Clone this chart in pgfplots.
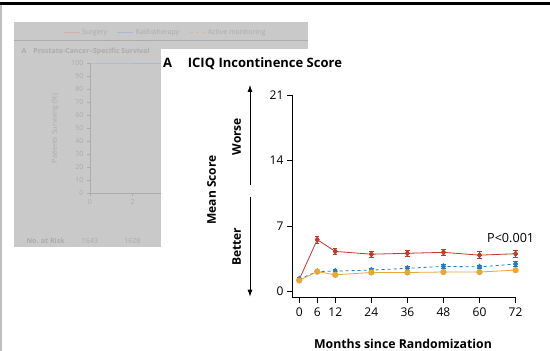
\documentclass[border=0pt]{standalone}
\usepackage{pgfplots}
\pgfplotsset{compat=1.18}
\usetikzlibrary{arrows.meta}
\usepackage{fontspec}
\setmainfont{Open Sans}
\definecolor{cred}{RGB}{192,58,43}
\definecolor{cblue}{RGB}{40,120,190}
\definecolor{corange}{RGB}{232,166,62}
\definecolor{insetbg}{RGB}{201,201,201}
\definecolor{insetfg}{RGB}{172,172,172}
\begin{document}
\begin{tikzpicture}
\path[use as bounding box, fill=white] (0,0) rectangle (550pt,351pt);
% faded background panel
\fill[insetbg] (14pt,104pt) rectangle (308pt,329pt);
\draw[insetfg, line width=0.6pt] (14pt,310.3pt) -- (308pt,310.3pt);
\node[anchor=west, text=insetfg, font=\fontsize{7}{8}\selectfont\bfseries] at (18pt,299.3pt) {A\quad Prostate-Cancer--Specific Survival};
\begin{axis}[
  scale only axis, width=213pt, height=130pt,
  anchor=south west, at={(90pt,157.7pt)},
  xmin=0, xmax=10, ymin=0, ymax=100,
  axis lines=left, axis line style={-, insetfg, line width=0.5pt},
  tick style={insetfg, line width=0.5pt}, tick align=outside, major tick length=3pt,
  xtick={0,2,4,6,8,10}, ytick={0,10,...,100},
  tick label style={text=insetfg, font=\fontsize{7}{8}\selectfont},
  /pgf/number format/assume math mode=true,
  ylabel={Patients Surviving (\%)}, ylabel style={text=insetfg, font=\fontsize{7}{8}\selectfont, at={(ticklabel cs:0.5)}, anchor=south, yshift=6pt},
  legend columns=3,
  legend style={draw=none, fill=none, at={(0.354,1.238)}, anchor=center, font=\fontsize{7}{8}\selectfont, text=insetfg, /tikz/every even column/.append style={column sep=8pt}},
  legend image code/.code={\draw[#1] (0pt,0pt) -- (16pt,0pt);},
  clip=false,
]
\addlegendimage{color={rgb,255:red,210;green,175;blue,170}, line width=0.6pt}
\addlegendentry{Surgery}
\addlegendimage{color={rgb,255:red,170;green,185;blue,205}, line width=0.6pt}
\addlegendentry{Radiotherapy}
\addlegendimage{color={rgb,255:red,205;green,190;blue,165}, dashed, line width=0.6pt}
\addlegendentry{Active monitoring}
\addplot[color={rgb,255:red,170;green,185;blue,205}, line width=0.6pt, forget plot] coordinates {(0,100) (3.5,99.8)};
\end{axis}
\node[anchor=west, text=insetfg, font=\fontsize{7}{8}\selectfont\bfseries] at (23pt,110.3pt) {No. at Risk};
\node[text=insetfg, font=\fontsize{7}{8}\selectfont] at (90pt,110.3pt) {1643};
\node[text=insetfg, font=\fontsize{7}{8}\selectfont] at (132.3pt,110.3pt) {1628};
% white main panel
\fill[white] (161pt,0pt) rectangle (309pt,302pt);
% borders
\fill[black] (0pt,346.3pt) rectangle (550pt,348.7pt);
\fill[black!25] (0pt,0pt) rectangle (2pt,346.3pt);
% titles and side labels
\node[anchor=west, font=\fontsize{13}{15}\selectfont\bfseries, inner sep=0pt] at (163pt,287.7pt) {A};
\node[anchor=west, font=\fontsize{13}{15}\selectfont\bfseries, inner sep=0pt] at (187.7pt,287.7pt) {ICIQ Incontinence Score};
\node[rotate=90, font=\fontsize{12}{14}\selectfont\bfseries] at (211.7pt,161pt) {Mean Score};
\node[rotate=90, font=\fontsize{12}{14}\selectfont\bfseries] at (236.7pt,214.3pt) {Worse};
\node[rotate=90, font=\fontsize{12}{14}\selectfont\bfseries] at (236.7pt,104.3pt) {Better};
\draw[-{Latex[length=7pt,width=5pt]}, line width=0.8pt] (250pt,166pt) -- (250pt,266pt);
\draw[-{Latex[length=7pt,width=5pt]}, line width=0.8pt] (250pt,154.3pt) -- (250pt,54.3pt);
\node[font=\fontsize{12.3}{14}\selectfont\bfseries] at (403pt,7pt) {Months since Randomization};
\node[anchor=west, font=\fontsize{12.6}{14}\selectfont, inner sep=0pt] at (487pt,112.7pt) {P<0.001};
% main axis
\begin{axis}[
  scale only axis, width=223.6pt, height=202.8pt,
  anchor=south west, at={(292pt,53.3pt)},
  xmin=-2.4, xmax=72, ymin=-0.64, ymax=21,
  axis lines=left, axis line style={-, line width=0.6pt},
  tick style={black, line width=0.6pt}, tick align=outside, major tick length=5pt,
  xtick={0,6,12,24,36,48,60,72}, ytick={0,7,14,21},
  tick label style={font=\fontsize{12}{14}\selectfont},
  xticklabel style={yshift=-1.5pt},
  /pgf/number format/assume math mode=true,
  clip=false,
  every axis plot/.append style={line width=0.8pt, mark size=2.7pt},
  error bars/error bar style={line width=0.8pt, solid},
  error bars/error mark options={rotate=90, mark size=2.2pt, line width=0.8pt},
]
\addplot[cred, mark=diamond*, mark options={solid, fill=cred}, error bars/.cd, y dir=both, y explicit] coordinates {
 (0,1.3) +- (0,0.15)
 (6,5.55) +- (0,0.4)
 (12,4.3) +- (0,0.35)
 (24,4.0) +- (0,0.35)
 (36,4.1) +- (0,0.35)
 (48,4.2) +- (0,0.35)
 (60,3.9) +- (0,0.35)
 (72,4.05) +- (0,0.35)
};
\addplot[cblue, dashed, mark=diamond*, mark options={solid, fill=cblue}, error bars/.cd, y dir=both, y explicit] coordinates {
 (0,1.35) +- (0,0.15)
 (6,2.15) +- (0,0.2)
 (12,2.2) +- (0,0.2)
 (24,2.3) +- (0,0.2)
 (36,2.5) +- (0,0.2)
 (48,2.7) +- (0,0.2)
 (60,2.65) +- (0,0.2)
 (72,2.95) +- (0,0.25)
};
\addplot[corange, mark=*, mark options={solid, fill=corange}, error bars/.cd, y dir=both, y explicit] coordinates {
 (0,1.2) +- (0,0.15)
 (6,2.15) +- (0,0.15)
 (12,1.8) +- (0,0.15)
 (24,2.05) +- (0,0.15)
 (36,2.05) +- (0,0.15)
 (48,2.1) +- (0,0.15)
 (60,2.1) +- (0,0.15)
 (72,2.3) +- (0,0.15)
};
\end{axis}
\end{tikzpicture}
\end{document}
